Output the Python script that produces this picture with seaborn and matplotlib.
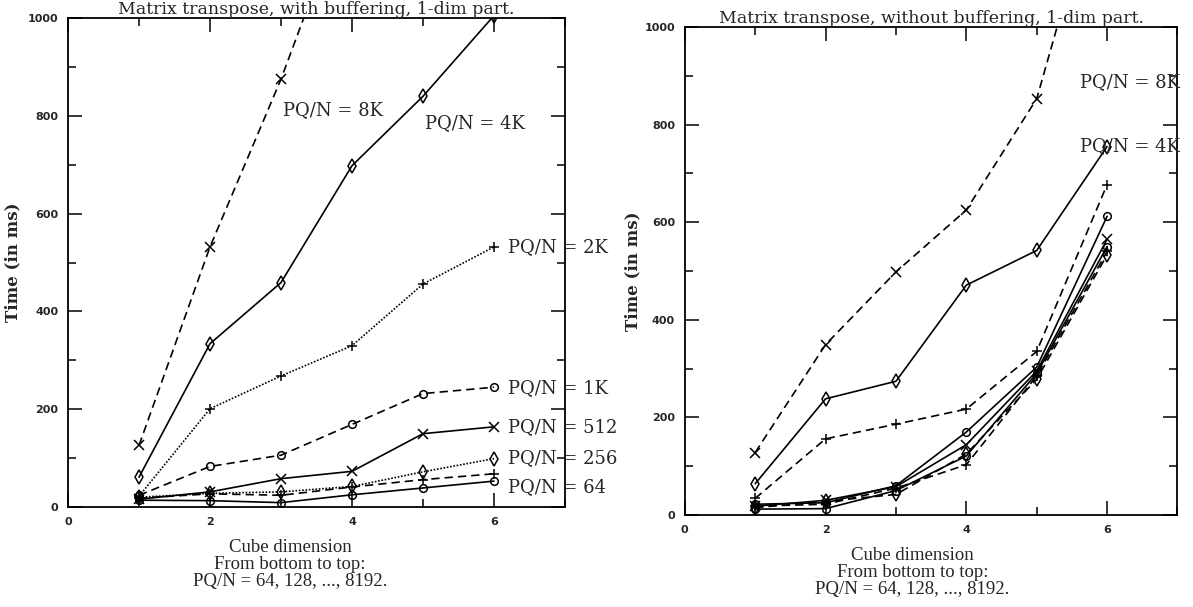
import numpy as np
import matplotlib
matplotlib.use("Agg")
import matplotlib.pyplot as plt
import seaborn as sns
from matplotlib.ticker import MultipleLocator

# Data, Cube dimension 1..6, time in ms
dims = [1, 2, 3, 4, 5, 6]
series_names = ["64", "128", "256", "512", "1K", "2K", "4K", "8K"]

# with buffering
left_64 = [14, 13, 9, 25, 39, 53]
left_128 = [18, 27, 24, 41, 56, 68]
left_256 = [20, 28, 31, 42, 72, 99]
left_512 = [16, 31, 58, 73, 150, 164]
left_1k = [24, 83, 106, 169, 232, 245]
left_2k = [22, 201, 268, 330, 456, 532]
left_4k = [61, 334, 459, 698, 840, 1005]
left_8k = [126, 532, 875, 1265]

# without buffering
right_64 = [12, 13, 50, 121, 290, 550]
right_128 = [18, 22, 55, 103, 285, 540]
right_256 = [15, 28, 42, 125, 278, 533]
right_512 = [18, 30, 58, 144, 295, 565]
right_1k = [22, 25, 60, 170, 303, 612]
right_2k = [34, 156, 186, 217, 335, 677]
right_4k = [64, 238, 274, 471, 542, 755]
right_8k = [128, 349, 498, 625, 853, 1360]

left_series = [left_64, left_128, left_256, left_512, left_1k, left_2k, left_4k, left_8k]
right_series = [right_64, right_128, right_256, right_512, right_1k, right_2k, right_4k, right_8k]

markers = ["o", "+", "d", "x", "o", "+", "d", "x"]
left_styles = ["-", (0, (5, 3)), (0, (1, 1)), "-", (0, (5, 3)), (0, (1, 1)), "-", (0, (5, 3))]
right_styles = ["-", (0, (5, 3)), (0, (5, 3)), "-", "-", (0, (5, 3)), "-", (0, (5, 3))]

# curve labels: (text, x, y)
left_labels = [("PQ/N = 8K", 3.03, 812), ("PQ/N = 4K", 5.03, 785),
               ("PQ/N = 2K", 6.2, 532), ("PQ/N = 1K", 6.2, 243),
               ("PQ/N = 512", 6.2, 164), ("PQ/N = 256", 6.2, 99),
               ("PQ/N = 64", 6.2, 40)]
right_labels = [("PQ/N = 8K", 5.62, 886), ("PQ/N = 4K", 5.62, 755)]

sns.set_style("ticks")
plt.rcParams["font.family"] = ["DejaVu Serif"]

fig = plt.figure(figsize=(11.93, 6.07), dpi=100)
ax1 = fig.add_axes([0.057, 0.1647, 0.4166, 0.8056])
ax2 = fig.add_axes([0.574, 0.1516, 0.413, 0.804])

xlabel = "Cube dimension\nFrom bottom to top:\nPQ/N = 64, 128, ..., 8192."

panels = [
    (ax1, left_series, left_styles, left_labels,
     "Matrix transpose, with buffering, 1-dim part.", 0.447, -0.093),
    (ax2, right_series, right_styles, right_labels,
     "Matrix transpose, without buffering, 1-dim part.", 0.462, -0.089),
]

for ax, series, styles, labels, title, xl, yl in panels:
    for vals, mk, ls in zip(series, markers, styles):
        ms = 5.5 if mk == "o" else 7
        sns.lineplot(x=dims[:len(vals)], y=vals, ax=ax, color="black",
                     linestyle=ls, linewidth=1.2, marker=mk, markersize=ms,
                     markerfacecolor="none", markeredgecolor="black",
                     markeredgewidth=1.1)
    ax.set_xlim(0, 7)
    ax.set_ylim(0, 1000)
    ax.xaxis.set_major_locator(MultipleLocator(2))
    ax.xaxis.set_minor_locator(MultipleLocator(1))
    ax.yaxis.set_major_locator(MultipleLocator(200))
    ax.yaxis.set_minor_locator(MultipleLocator(100))
    ax.tick_params(which="both", direction="in", top=True, right=True,
                   width=1.1, color="black")
    ax.tick_params(which="major", length=10, pad=7)
    ax.tick_params(which="minor", length=6)
    for lab in ax.get_xticklabels() + ax.get_yticklabels():
        lab.set_family("DejaVu Sans")
        lab.set_fontweight("bold")
        lab.set_fontsize(8)
    for sp in ax.spines.values():
        sp.set_linewidth(1.3)
        sp.set_color("black")
    ax.set_title(title, fontsize=12.5, pad=2)
    ax.set_ylabel("Time (in ms)", fontsize=12, fontweight="bold")
    ax.yaxis.set_label_coords(yl, 0.5)
    ax.set_xlabel(xlabel, family="Liberation Serif", fontsize=13.5,
                  linespacing=1.0, va="top")
    ax.xaxis.set_label_coords(xl, -0.065)
    for txt, x, y in labels:
        ax.text(x, y, txt, fontsize=13, va="center", ha="left", clip_on=False)

fig.savefig("out.png", dpi=100)
